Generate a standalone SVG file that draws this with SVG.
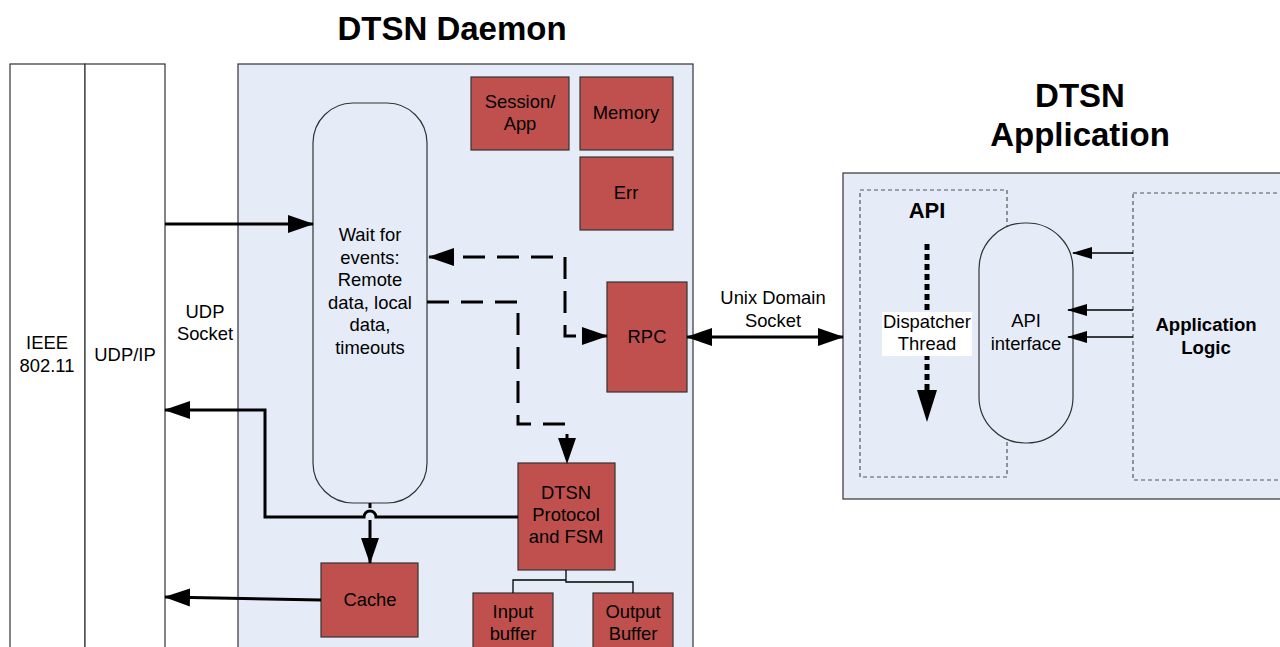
<svg xmlns="http://www.w3.org/2000/svg" width="1280" height="647" viewBox="0 0 1280 647">
<defs>
<style>
text{font-family:"Liberation Sans",Arial,sans-serif;fill:#000;text-anchor:middle}
.t{font-size:18.4px}
.title{font-size:33px;font-weight:bold}
.red{fill:#C0504D;stroke:#333;stroke-width:1.2}
.panel{fill:#E6ECF7;stroke:#333;stroke-width:1.2}
.thick{fill:none;stroke:#000;stroke-width:3}
.dash{fill:none;stroke:#000;stroke-width:3;stroke-dasharray:22 12}
.thin{fill:none;stroke:#000;stroke-width:1.3}
.gdash{fill:none;stroke:#555;stroke-width:1.2;stroke-dasharray:4 3}
</style>
<marker id="ah" markerUnits="userSpaceOnUse" markerWidth="26" markerHeight="20" viewBox="0 0 26 20" refX="25" refY="10" orient="auto-start-reverse"><path d="M0,1 L26,10 L0,19 Z" fill="#000"/></marker>
<marker id="ahs" markerUnits="userSpaceOnUse" markerWidth="20" markerHeight="14" viewBox="0 0 20 14" refX="19" refY="7" orient="auto-start-reverse"><path d="M0,1 L20,7 L0,13 Z" fill="#000"/></marker>
</defs>
<rect width="1280" height="647" fill="#fff"/>

<g id="titles">
<text class="title" x="452" y="40">DTSN Daemon</text>
<text class="title" x="1080" y="107">DTSN</text>
<text class="title" x="1080" y="146">Application</text>
</g>

<g id="ieee">
<rect x="10" y="64" width="75" height="600" fill="#fff" stroke="#333" stroke-width="1.2"/>
<text class="t" x="47" y="349">IEEE</text>
<text class="t" x="47" y="372">802.11</text>
</g>
<g id="udpip">
<rect x="85" y="64" width="80" height="600" fill="#fff" stroke="#333" stroke-width="1.2"/>
<text class="t" x="125" y="361">UDP/IP</text>
</g>
<g id="udp-socket-label">
<text class="t" x="205" y="318">UDP</text>
<text class="t" x="205" y="340">Socket</text>
</g>

<g id="daemon">
<rect class="panel" x="238" y="64" width="455" height="600"/>
</g>

<g id="wait">
<rect x="313" y="103" width="114" height="400" rx="40" ry="40" fill="#E6ECF7" stroke="#333" stroke-width="1.2"/>
<text class="t" x="370" y="241">Wait for</text>
<text class="t" x="370" y="264">events:</text>
<text class="t" x="370" y="286">Remote</text>
<text class="t" x="370" y="309">data, local</text>
<text class="t" x="370" y="331">data,</text>
<text class="t" x="370" y="354">timeouts</text>
</g>

<g id="session">
<rect class="red" x="471" y="77" width="98" height="73"/>
<text class="t" x="520" y="108">Session/</text>
<text class="t" x="520" y="130">App</text>
</g>
<g id="memory">
<rect class="red" x="580" y="77" width="93" height="73"/>
<text class="t" x="626" y="119">Memory</text>
</g>
<g id="err">
<rect class="red" x="580" y="157" width="93" height="73"/>
<text class="t" x="626" y="199">Err</text>
</g>
<g id="rpc">
<rect class="red" x="607" y="282" width="80" height="110"/>
<text class="t" x="647" y="343">RPC</text>
</g>
<g id="protocol">
<rect class="red" x="518" y="463" width="97" height="107"/>
<text class="t" x="566" y="499">DTSN</text>
<text class="t" x="566" y="521">Protocol</text>
<text class="t" x="566" y="543">and FSM</text>
</g>
<g id="cache">
<rect class="red" x="321" y="563" width="97" height="74"/>
<text class="t" x="370" y="606">Cache</text>
</g>
<g id="input">
<rect class="red" x="473" y="593" width="80" height="70"/>
<text class="t" x="513" y="618">Input</text>
<text class="t" x="513" y="640">buffer</text>
</g>
<g id="output">
<rect class="red" x="593" y="593" width="80" height="70"/>
<text class="t" x="633" y="618">Output</text>
<text class="t" x="633" y="640">Buffer</text>
</g>

<g id="app">
<rect class="panel" x="843" y="173" width="450" height="326"/>
</g>
<g id="api">
<rect class="gdash" x="860" y="190" width="147" height="287"/>
<text x="927" y="218" style="font-size:22px;font-weight:bold">API</text>
</g>
<g id="applogic">
<rect class="gdash" x="1133" y="193" width="160" height="287"/>
<text x="1206" y="331" style="font-size:18.6px;font-weight:bold">Application</text>
<text x="1206" y="354" style="font-size:18.6px;font-weight:bold">Logic</text>
</g>
<g id="apiif">
<rect x="979" y="223" width="94" height="220" rx="46" ry="46" fill="#E6ECF7" stroke="#333" stroke-width="1.2"/>
<text class="t" x="1026" y="327">API</text>
<text class="t" x="1026" y="350">interface</text>
</g>

<g id="connectors">
<line class="thick" x1="165" y1="224" x2="313" y2="224" marker-end="url(#ah)"/>
<path class="dash" d="M429,257 H565 V336 H607" marker-start="url(#ah)" marker-end="url(#ah)"/>
<path class="dash" d="M427,302 H518 V424 H567 V463" marker-end="url(#ah)"/>
<path class="thick" d="M518,517 H376 A6,6 0 0 0 364,517 H265 V410 H165" marker-end="url(#ah)"/>
<line class="thick" x1="370" y1="503" x2="370" y2="508"/>
<line class="thick" x1="370" y1="520" x2="370" y2="563" marker-end="url(#ah)"/>
<line class="thick" x1="321" y1="600" x2="165" y2="597" marker-end="url(#ah)"/>
<path class="thin" d="M566,570 V580 H513 V593 M566,580 V582 H633 V593" stroke="#333"/>
<line class="thick" x1="687" y1="337" x2="843" y2="337" marker-start="url(#ah)" marker-end="url(#ah)"/>
<line class="thin" x1="1133" y1="253" x2="1073" y2="253" marker-end="url(#ahs)"/>
<line class="thin" x1="1133" y1="310" x2="1068" y2="310" marker-end="url(#ahs)"/>
<line class="thin" x1="1133" y1="337" x2="1068" y2="337" marker-end="url(#ahs)"/>
<line x1="927" y1="244" x2="927" y2="392" stroke="#000" stroke-width="5" stroke-dasharray="6 4"/>
<path d="M917,390 L937,390 L927,422 Z" fill="#000"/>
</g>

<g id="unix-label">
<text class="t" x="773" y="304">Unix Domain</text>
<text class="t" x="773" y="327">Socket</text>
</g>
<g id="dispatcher">
<rect x="882" y="312" width="90" height="44" fill="#fff"/>
<text class="t" x="927" y="328">Dispatcher</text>
<text class="t" x="927" y="350">Thread</text>
</g>
</svg>
